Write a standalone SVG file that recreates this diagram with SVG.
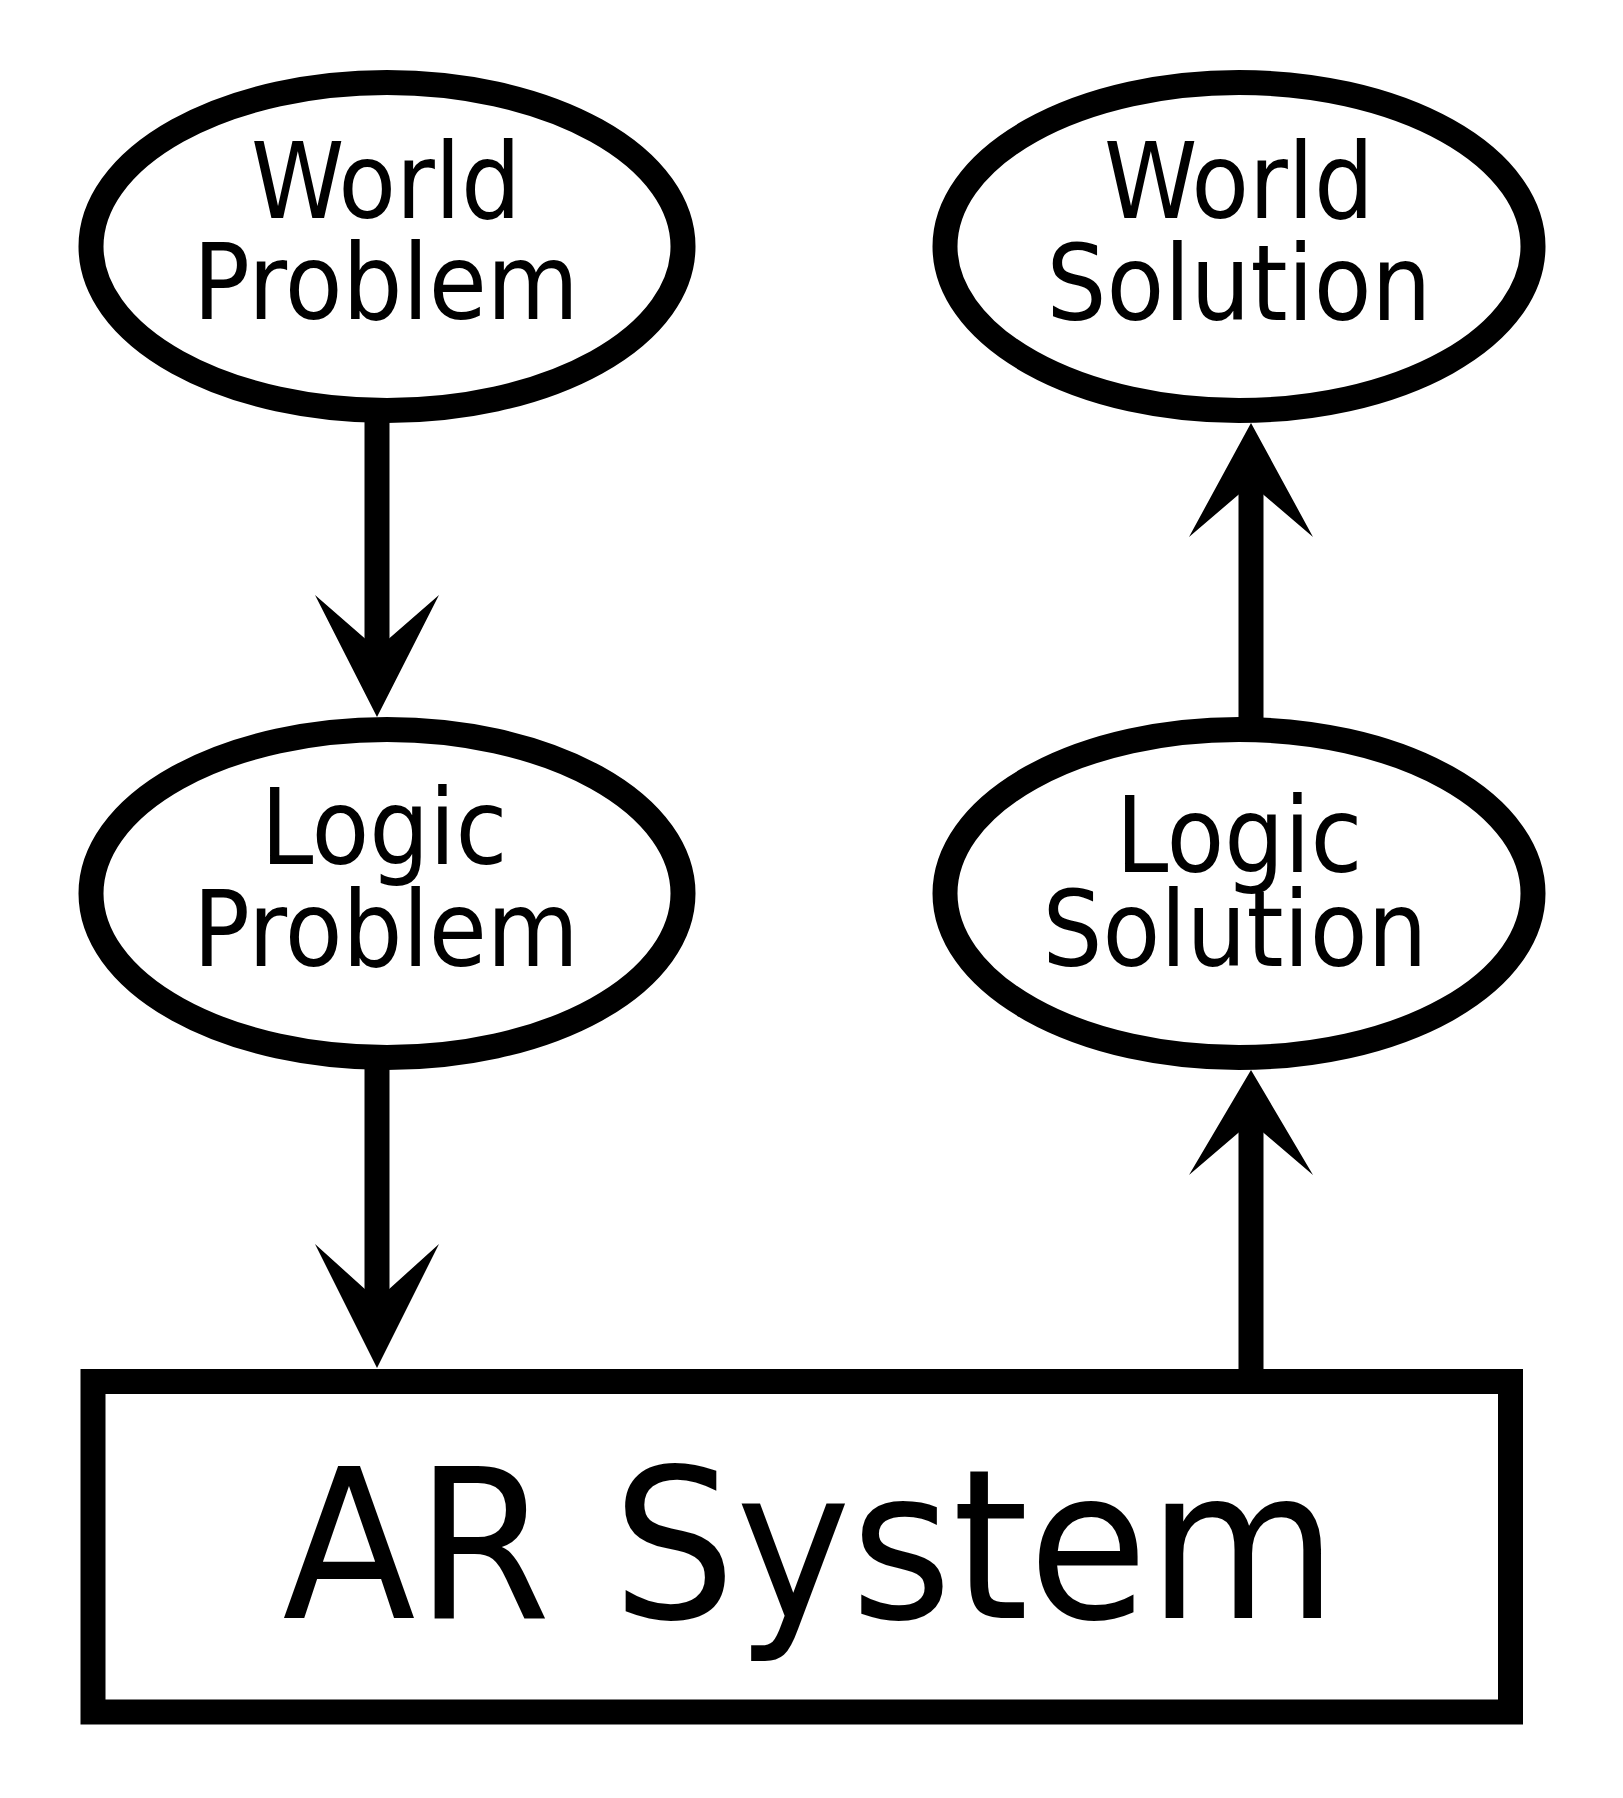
<svg xmlns="http://www.w3.org/2000/svg" width="1623" height="1798" viewBox="0 0 1623 1798">
<style>
.node{fill:#fff;stroke:#000;stroke-width:25}
.lbl{font-family:"DejaVu Sans Condensed","DejaVu Sans",sans-serif;font-stretch:condensed;font-size:105px;fill:#000;text-anchor:middle}
.big{font-size:208px}
.shaft{stroke:#000;stroke-width:25;fill:none}
.head{fill:#000;stroke:none}
</style>
<rect width="1623" height="1798" fill="#fff"/>
<g id="connectors">
<line class="shaft" x1="377" y1="400" x2="377" y2="655"/>
<polygon class="head" points="377,717 439,595 377,649 315,595"/>
<line class="shaft" x1="377" y1="1050" x2="377" y2="1305"/>
<polygon class="head" points="377,1368 439,1244 377,1300 315,1244"/>
<line class="shaft" x1="1251" y1="478" x2="1251" y2="740"/>
<polygon class="head" points="1251,423 1313,537 1251,484 1189,537"/>
<line class="shaft" x1="1251" y1="1116" x2="1251" y2="1390"/>
<polygon class="head" points="1251,1070 1313,1175 1251,1122 1189,1175"/>
</g>
<g id="world-problem">
<ellipse class="node" cx="387" cy="246.5" rx="296" ry="164"/>
<text class="lbl" x="386" y="217.7">World</text>
<text class="lbl" x="386" y="319">Problem</text>
</g>
<g id="world-solution">
<ellipse class="node" cx="1239" cy="246.5" rx="294" ry="164"/>
<text class="lbl" x="1239" y="217.7">World</text>
<text class="lbl" x="1239" y="320">Solution</text>
</g>
<g id="logic-problem">
<ellipse class="node" cx="387" cy="893.5" rx="296" ry="164"/>
<text class="lbl" x="384" y="864.3">Logic</text>
<text class="lbl" x="386" y="965.7">Problem</text>
</g>
<g id="logic-solution">
<ellipse class="node" cx="1239" cy="893.5" rx="294" ry="164"/>
<text class="lbl" x="1239" y="871.7">Logic</text>
<text class="lbl" x="1235" y="965.7">Solution</text>
</g>
<g id="ar-system">
<rect class="node" x="93" y="1381.5" width="1417.5" height="330.5"/>
<text class="lbl big" x="810" y="1617.7" textLength="1055" lengthAdjust="spacingAndGlyphs">AR System</text>
</g>
</svg>
